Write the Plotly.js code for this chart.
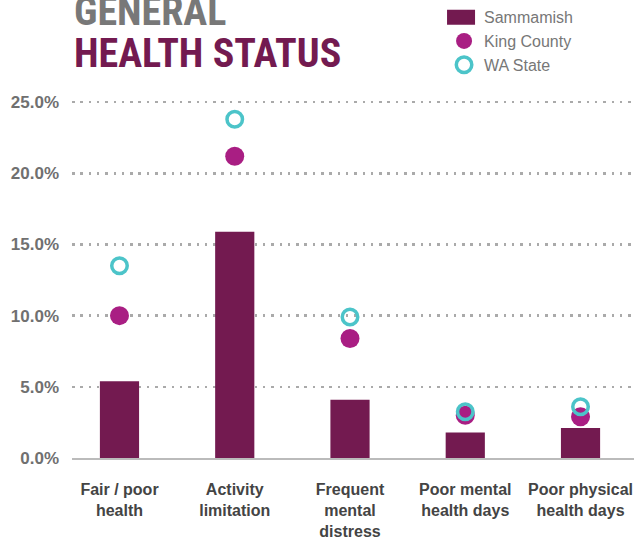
<!DOCTYPE html>
<html>
<head>
<meta charset="utf-8">
<script src="https://cdn.plot.ly/plotly-3.0.1.min.js"></script>
<style>html,body{margin:0;padding:0;background:#fff;}#chart{width:634px;height:541px;}</style>
</head>
<body>
<div id="chart"></div>
<script>
// Data
const categories = ["Fair / poor<br>health", "Activity<br>limitation", "Frequent<br>mental<br>distress", "Poor mental<br>health days", "Poor physical<br>health days"];
const sammamish = [5.4, 15.9, 4.1, 1.8, 2.1];
const kingCounty = [10.0, 21.2, 8.4, 3.0, 2.9];
const waState = [13.5, 23.8, 9.9, 3.25, 3.6];
const yTickVals = [0, 5, 10, 15, 20, 25];
const yTickText = ["0.0%", "5.0%", "10.0%", "15.0%", "20.0%", "25.0%"];

const traces = [
  {type: "bar", name: "Sammamish", x: categories, y: sammamish, width: 0.34,
   marker: {color: "#731a50"}, hoverinfo: "skip"},
  {type: "scatter", mode: "markers", name: "King County", x: categories, y: kingCounty,
   marker: {color: "#a91e83", size: 19, symbol: "circle"}, hoverinfo: "skip"},
  {type: "scatter", mode: "markers", name: "WA State", x: categories, y: waState,
   marker: {color: "#4cc4c9", size: 15.5, symbol: "circle-open", line: {width: 3.5, color: "#4cc4c9"}}, hoverinfo: "skip"}
];

const layout = {
  width: 634, height: 541,
  margin: {l: 72, r: 0, t: 95, b: 83},
  paper_bgcolor: "#fff", plot_bgcolor: "#fff",
  showlegend: true,
  legend: {x: 0.662, xanchor: "left", y: 1.261, yanchor: "top",
           font: {family: "Liberation Sans, Arial, sans-serif", size: 16, color: "#777"},
           bgcolor: "rgba(0,0,0,0)", tracegroupgap: 0},
  xaxis: {type: "category", range: [-0.412, 4.464], showgrid: false, zeroline: false,
          showline: true, linecolor: "#bbb", linewidth: 2, ticks: "",
          ticklabelstandoff: 16,
          tickfont: {family: "Liberation Sans, Arial, sans-serif", size: 16, color: "#444", weight: "bold"}},
  yaxis: {range: [0, 25.5], tickvals: yTickVals, ticktext: yTickText,
          showgrid: true, gridcolor: "#aaa", gridwidth: 2.5, griddash: "2.5px,5.8px",
          zeroline: false, showline: false, ticks: "", ticklabelstandoff: 12,
          tickfont: {family: "Liberation Sans, Arial, sans-serif", size: 17, color: "#707070", weight: "bold"}},
  annotations: [
    {text: "GENERAL", xref: "paper", yref: "paper", x: 0, y: 1.231, xanchor: "left", yanchor: "middle",
     showarrow: false, font: {family: "Roboto Condensed, Liberation Sans Narrow, sans-serif", size: 40, color: "#787878", weight: "bold"}},
    {text: "HEALTH STATUS", xref: "paper", yref: "paper", x: 0, y: 1.113, xanchor: "left", yanchor: "middle",
     showarrow: false, font: {family: "Roboto Condensed, Liberation Sans Narrow, sans-serif", size: 40, color: "#731a50", weight: "bold"}}
  ]
};

Plotly.newPlot("chart", traces, layout, {staticPlot: true, displayModeBar: false}).then(function (gd) {
  // widen the bar swatch in the legend to a flat rectangle like the reference
  const first = gd.querySelectorAll(".legend .traces")[0];
  if (first) {
    first.querySelectorAll(".legendpoints path").forEach(function (p) {
      p.setAttribute("d", "M14,7.5H-14V-7.5H14Z");
      p.setAttribute("transform", "translate(17,0)");
    });
  }
});
</script>
</body>
</html>
